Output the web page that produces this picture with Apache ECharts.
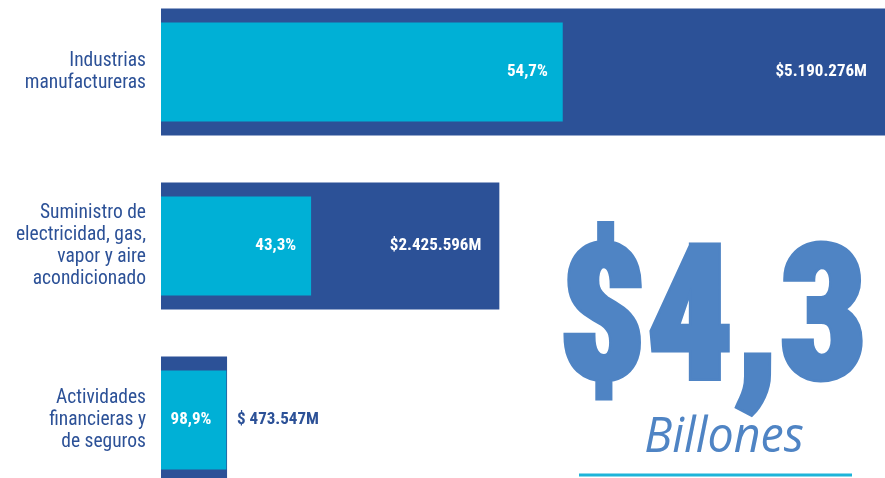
<!DOCTYPE html>
<html><head><meta charset="utf-8">
<script src="https://cdn.jsdelivr.net/npm/echarts@6/dist/echarts.min.js"></script>
<style>html,body{margin:0;padding:0;background:#fff}#c{width:885px;height:478px}</style>
</head><body><div id="c"></div>
<script>
const categories = ["Industrias\nmanufactureras", "Suministro de\nelectricidad, gas,\nvapor y aire\nacondicionado", "Actividades\nfinancieras y\nde seguros"];
const totalValues = [5190276, 2425596, 473547];
const totalLabels = ["$5.190.276M", "$2.425.596M", "$ 473.547M"];
const innerValues = [2880000, 1076000, 468300];
const innerLabels = ["54,7%", "43,3%", "98,9%"];
const headline = "$4,3";
const headlineUnit = "Billones";

const FONT = '"Liberation Sans Narrow", "Roboto Condensed", "Open Sans", sans-serif';
const DARK = '#2c5197', CYAN = '#00b0d6', BIG = '#4f84c4';
const maxTotal = Math.max(...totalValues);

const chart = echarts.init(document.getElementById('c'), null, {renderer: 'canvas'});
chart.setOption({
  animation: false,
  grid: {left: 161, right: 0, top: -15, height: 522, outerBoundsMode: 'none', containLabel: false},
  xAxis: {type: 'value', min: 0, max: maxTotal, show: false},
  yAxis: [
    {type: 'category', inverse: true, data: categories,
     axisLine: {show: false}, axisTick: {show: false},
     axisLabel: {color: DARK, fontSize: 19.5, lineHeight: 22, margin: 15, fontFamily: FONT, align: 'right'}},
    {type: 'category', inverse: true, data: categories, show: false}
  ],
  series: [
    {type: 'bar', yAxisIndex: 0, barWidth: 127, itemStyle: {color: DARK},
     data: totalValues.map((v, i) => {
       const outside = v < maxTotal * 0.2;
       return {value: v, label: {
         show: true, position: outside ? 'right' : 'insideRight', distance: outside ? 10 : 18,
         color: outside ? DARK : '#fff', fontWeight: 'bold', fontSize: 17, fontFamily: FONT,
         formatter: () => totalLabels[i]}};
     })},
    {type: 'bar', yAxisIndex: 1, barWidth: 99, itemStyle: {color: CYAN},
     data: innerValues.map((v, i) => ({value: v, label: {
       show: true, position: 'insideRight', distance: 15,
       color: '#fff', fontWeight: 'bold', fontSize: 17, fontFamily: FONT,
       formatter: () => innerLabels[i]}}))}
  ],
  graphic: [
    {type: 'text', x: 713, y: 331, scaleX: 0.91,
     style: {text: headline, fill: BIG, stroke: BIG, lineWidth: 5, font: '900 188px ' + FONT,
             align: 'center', verticalAlign: 'middle', textAlign: 'center', textVerticalAlign: 'middle'}},
    {type: 'text', x: 724, y: 438, scaleX: 0.95,
     style: {text: headlineUnit, fill: BIG, font: 'italic 49px "Open Sans", sans-serif',
             align: 'center', verticalAlign: 'middle', textAlign: 'center', textVerticalAlign: 'middle'}},
    {type: 'line', shape: {x1: 579, y1: 475, x2: 852, y2: 475},
     style: {stroke: '#1db4d9', lineWidth: 3}}
  ]
});
</script>
</body></html>
